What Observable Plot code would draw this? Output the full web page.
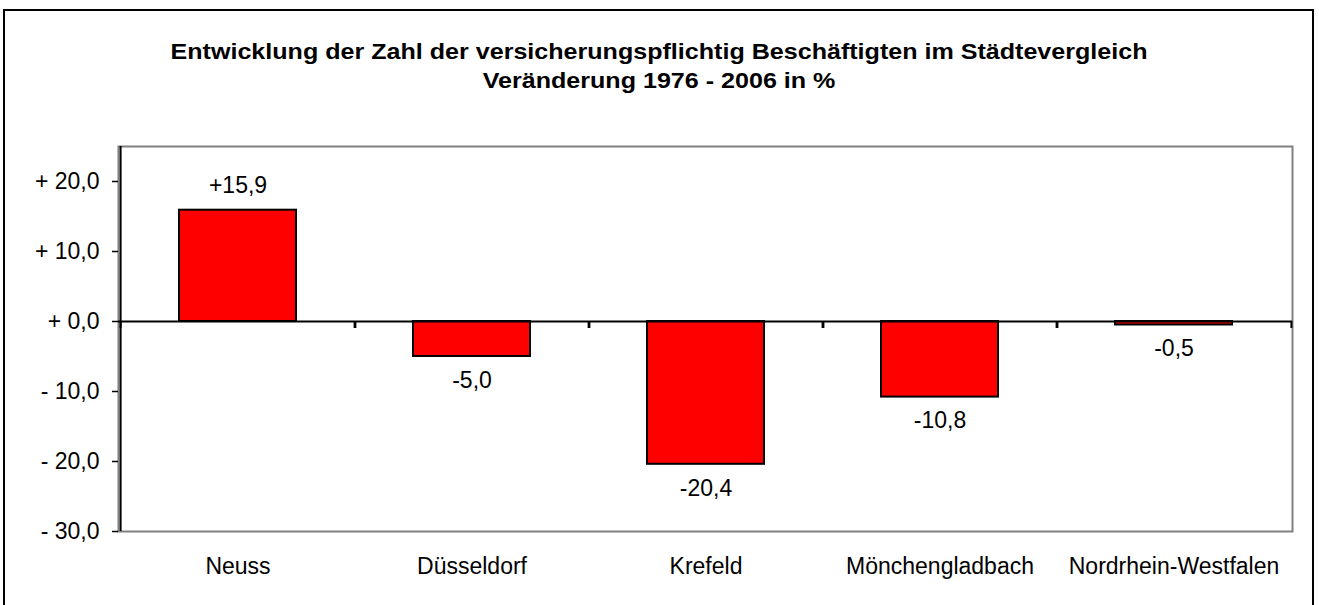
<!DOCTYPE html>
<html>
<head>
<meta charset="utf-8">
<script src="https://cdn.jsdelivr.net/npm/d3@7"></script>
<script src="https://cdn.jsdelivr.net/npm/@observablehq/plot@0.6"></script>
<style>
  html, body { margin: 0; padding: 0; background: #fff; overflow: hidden; }
  #wrap { position: relative; width: 1319px; height: 605px; font-family: "Liberation Sans", Arial, sans-serif; }
  #frame { position: absolute; left: 3px; top: 9px; width: 1311px; height: 700px; border: 2px solid #000; box-sizing: border-box; }
  #title { position: absolute; left: 3px; width: 1314px; top: 37px; text-align: center; font-weight: bold; font-size: 22px; line-height: 29px; color: #000; transform: scaleX(1.14); transform-origin: 664px 0; }
  #chart { position: absolute; left: 0; top: 0; }
</style>
</head>
<body>
<div id="wrap">
  <div id="frame"></div>
  <div id="chart"></div>
  <div id="title">Entwicklung der Zahl der versicherungspflichtig Beschäftigten im Städtevergleich<br>Veränderung 1976 - 2006 in %</div>
</div>
<script>
const categories = ["Neuss", "Düsseldorf", "Krefeld", "Mönchengladbach", "Nordrhein-Westfalen"];
const values = [15.9, -5.0, -20.4, -10.8, -0.5];
const yTicks = [-30, -20, -10, 0, 10, 20];

const data = categories.map((c, i) => ({ city: c, value: values[i] }));

const W = 1319, H = 605;
const mL = 118, mR = 27, mT = 146, mB = 74;
const step = (W - mL - mR) / categories.length;

const fmtTick = d => (d < 0 ? "- " : "+ ") + Math.abs(d).toFixed(1).replace(".", ",");
const fmtVal = d => (d > 0 ? "+" : "") + d.toFixed(1).replace(".", ",");

const chart = Plot.plot({
  width: W,
  height: H,
  marginLeft: mL,
  marginRight: mR,
  marginTop: mT,
  marginBottom: mB,
  style: { fontFamily: "'Liberation Sans', Arial, sans-serif", fontSize: "23px", color: "#000", background: "transparent" },
  x: { type: "band", domain: categories, paddingInner: 0.5, paddingOuter: 0.25, label: null },
  y: { domain: [-30, 25], label: null },
  marks: [
    Plot.frame({ stroke: "#808080", strokeWidth: 2 }),
    Plot.axisY({ ticks: yTicks, tickFormat: fmtTick, tickSize: 6, tickPadding: 13, fontSize: 23, stroke: "#000", strokeWidth: 1.5, label: null }),
    Plot.axisX({ tickSize: 0, tickPadding: 26, fontSize: 23, label: null }),
    Plot.ruleX([categories[0]], { x: d => d, y1: -30, y2: 25, dx: -step / 2, stroke: "#000", strokeWidth: 2 }),
    Plot.barY(data, { x: "city", y: "value", fill: "#ff0000", stroke: "#000", strokeWidth: 2 }),
    Plot.ruleY([0], { stroke: "#000", strokeWidth: 2 }),
    Plot.ruleX(categories, { x: d => d, y1: 0, y2: -1, dx: step / 2, stroke: "#000", strokeWidth: 2 }),
    Plot.ruleX(categories, { x: d => d, y1: 0, y2: -1, dx: -step / 2, stroke: "#000", strokeWidth: 2 }),
    Plot.text(data, { x: "city", y: "value", text: d => fmtVal(d.value), fontSize: 23, fill: "#000",
      filter: d => d.value >= 0, dy: -25 }),
    Plot.text(data, { x: "city", y: "value", text: d => fmtVal(d.value), fontSize: 23, fill: "#000",
      filter: d => d.value < 0, dy: 24 })
  ]
});
document.getElementById("chart").appendChild(chart);
</script>
</body>
</html>
